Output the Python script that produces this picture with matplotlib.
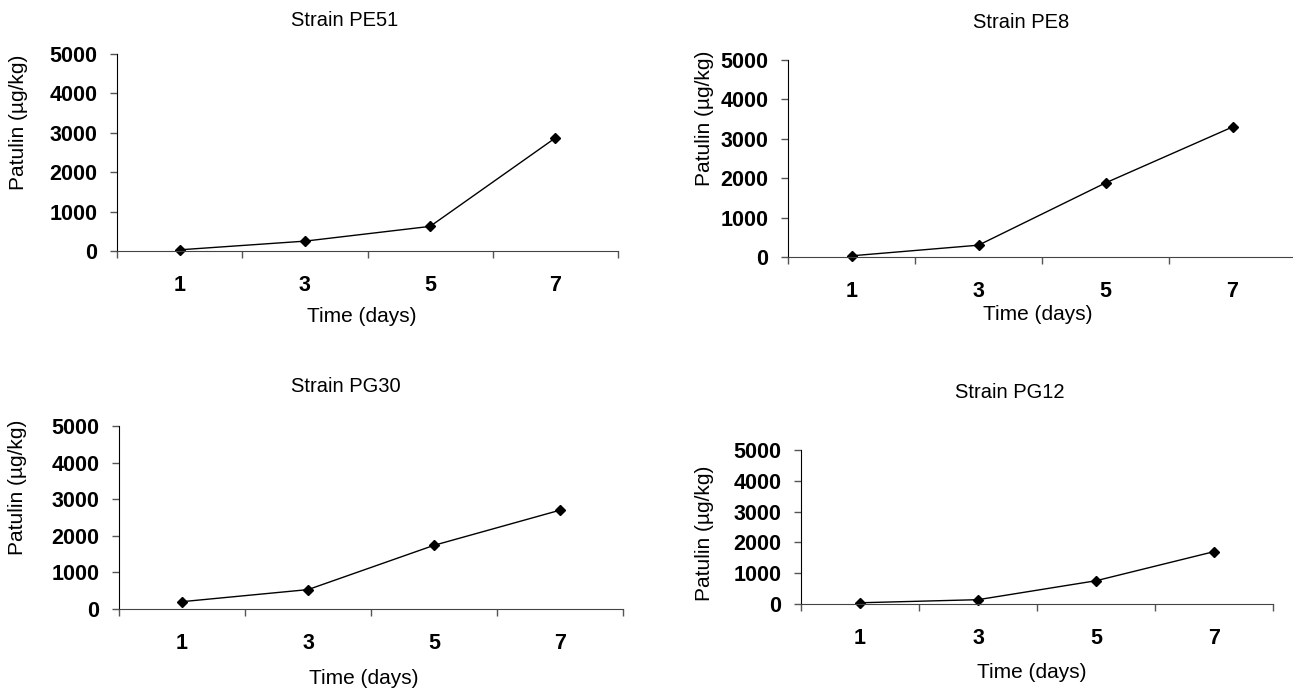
import matplotlib
matplotlib.use("Agg")
import matplotlib.pyplot as plt

plt.rcParams['font.family'] = ['Liberation Sans', 'DejaVu Sans']

# data
days = ["1", "3", "5", "7"]
pe51 = [30, 250, 625, 2870]
pe8 = [30, 300, 1880, 3300]
pg30 = [200, 530, 1740, 2700]
pg12 = [40, 140, 755, 1700]
titles = ["Strain PE51", "Strain PE8", "Strain PG30", "Strain PG12"]
yticks = [0, 1000, 2000, 3000, 4000, 5000]

W, H = 1293, 693
fig = plt.figure(figsize=(W / 100, H / 100), dpi=100)

def px_axes(x0, x1, ytop, ybot):
    return fig.add_axes([x0 / W, 1 - ybot / H, (x1 - x0) / W, (ybot - ytop) / H])

# axes boxes in pixels (left, right, top, bottom)
boxes = [(117, 618, 54, 251), (788, 1296, 60, 257),
         (119, 623, 426, 609), (801, 1273, 450, 604)]
# title, xlabel, ylabel positions in pixels
title_pos = [(345, 20), (1021, 22), (346, 387), (1010, 392)]
xlab_pos = [(362, 317), (1038, 315), (364, 678), (1032, 672)]
ylab_pos = [(19, 122), (705, 118), (18, 487), (704, 533)]

series = [pe51, pe8, pg30, pg12]

for i in range(4):
    ax = px_axes(*boxes[i])
    xs = [k + 0.5 for k in range(len(days))]
    ax.plot(xs, series[i], color='black', lw=1.0, marker='D', ms=5.5,
            markerfacecolor='black', markeredgecolor='black', clip_on=False)
    ax.set_xlim(0, len(days))
    ax.set_ylim(0, 5000)
    ax.set_yticks(yticks)
    ax.set_yticklabels([str(v) for v in yticks], fontsize=15.5, fontweight='bold')
    ax.set_xticks(range(len(days) + 1))
    ax.set_xticklabels([])
    ax.set_xticks(xs, minor=True)
    ax.set_xticklabels(days, minor=True, fontsize=15.5, fontweight='bold')
    ax.tick_params(axis='x', which='major', direction='out', length=5, width=1, color='#555555')
    ax.tick_params(axis='x', which='minor', length=0, pad=17)
    ax.tick_params(axis='y', direction='out', length=5, width=1, color='#555555', pad=9)
    ax.spines['top'].set_visible(False)
    ax.spines['right'].set_visible(False)
    ax.spines['left'].set_color('black')
    ax.spines['bottom'].set_color('#444444')
    ax.patch.set_alpha(0)

    fig.text(title_pos[i][0] / W, 1 - title_pos[i][1] / H, titles[i],
             ha='center', va='center', fontsize=14.5)
    fig.text(xlab_pos[i][0] / W, 1 - xlab_pos[i][1] / H, "Time (days)",
             ha='center', va='center', fontsize=15)
    fig.text(ylab_pos[i][0] / W, 1 - ylab_pos[i][1] / H, "Patulin (µg/kg)",
             ha='center', va='center', fontsize=15, rotation=90)

fig.savefig("out.png", dpi=100)
